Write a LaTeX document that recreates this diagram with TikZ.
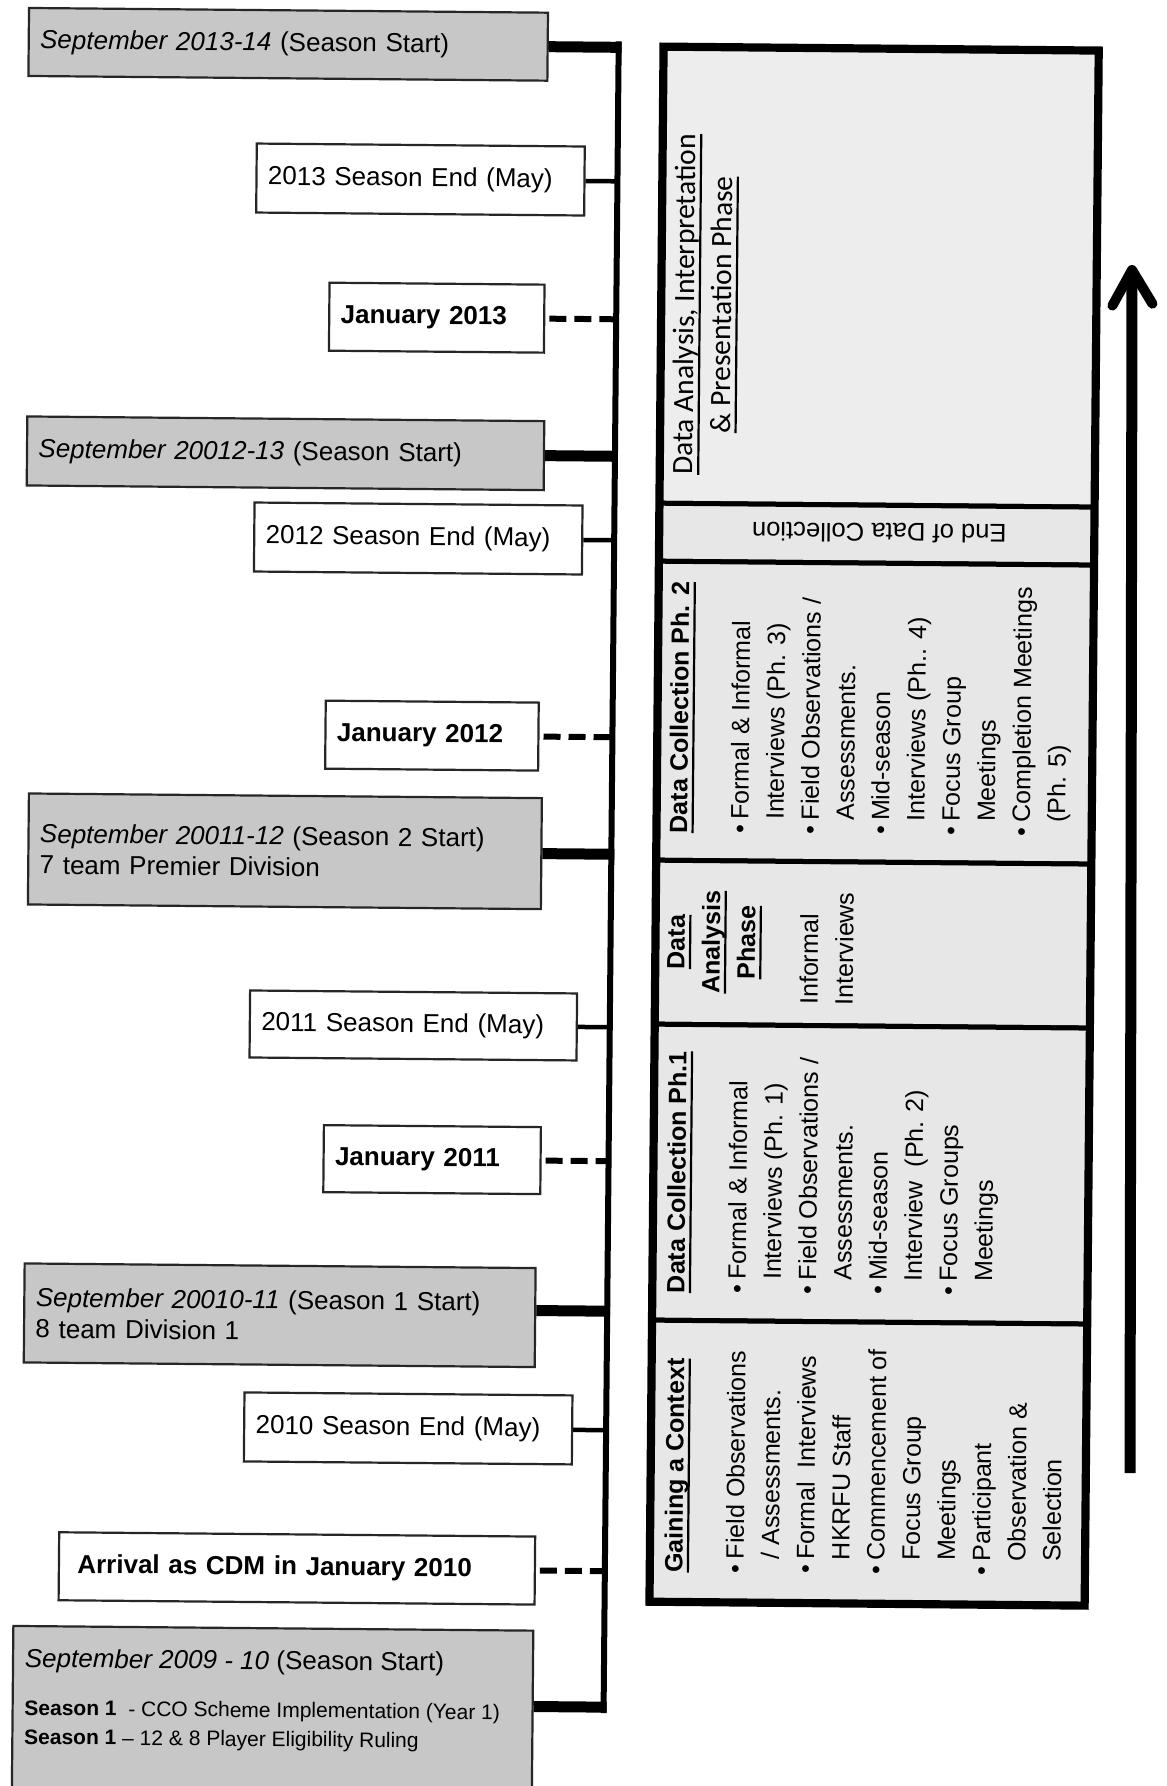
\documentclass[tikz,border=0pt]{standalone}
\usepackage{fontspec}
\setmainfont{Liberation Sans}
\newfontfamily\calfont{Carlito}
\definecolor{evtgray}{gray}{0.78}
\definecolor{panelgray}{gray}{0.905}
\definecolor{toppanel}{gray}{0.93}
% underline at a fixed depth below the baseline
\newcommand\ulbar[1]{\setbox0=\hbox{#1}\rlap{\rule[-3.3pt]{\wd0}{1.1pt}}\box0}
% bullet and hanging indent for the phase lists
\newcommand\bulmark{\makebox[7pt][l]{•}}
\newcommand\contind{\hspace*{7pt}}
\begin{document}
\begin{tikzpicture}[x=0.5pt,y=-0.5pt,
  evt/.style={draw=black!85, line width=1.1pt, inner xsep=5.75pt, inner ysep=0pt,
    align=left, font=\fontsize{13}{15.5}\selectfont},
  startbox/.style={evt, fill=evtgray},
  endbox/.style={evt, fill=white},
  thickcon/.style={line width=5.5pt},
  thincon/.style={line width=2.25pt},
  dashcon/.style={line width=3pt, dash pattern=on 8.5pt off 4pt},
  spineline/.style={line width=3pt},
  panel/.style={draw=black, line width=2.5pt, fill=panelgray, minimum width=216pt,
    inner sep=0pt, anchor=north west},
  ptext/.style={rotate=90, inner sep=0pt, align=left, font=\fontsize{12.5}{17.6}\selectfont},
]
\useasboundingbox (0,0) rectangle (1166,1786);

\begin{scope}[rotate around={-0.52:(583,893)}, transform shape]

% ---------- time line ----------
\coordinate (spTop) at (611,41);
\coordinate (spBot) at (611,1713);
\draw[spineline] (spTop) -- (spBot);

\node[startbox, text width=248pt, minimum height=34pt] (A) at (280.5,47)
  {\textit{September 2013-14} (Season Start)};
\node[endbox, text width=152.5pt, minimum height=34.5pt] (B) at (414,181)
  {2013 Season End (May)};
\node[endbox, text width=96pt, minimum height=34pt] (C) at (431.5,319)
  {\textbf{January 2013}};
\node[startbox, text width=247pt, minimum height=34.5pt] (D) at (281.5,456)
  {\textit{September 20012-13} (Season Start)};
\node[endbox, text width=152.5pt, minimum height=34.5pt] (E) at (415,540)
  {2012 Season End (May)};
\node[endbox, text width=95pt, minimum height=34pt] (F) at (430.5,737)
  {\textbf{January 2012}};
\node[startbox, text width=245pt, minimum height=55.5pt] (G) at (284.5,854)
  {\textit{September 20011-12} (Season 2 Start)\\7 team Premier Division};
\node[endbox, text width=152pt, minimum height=33.5pt] (H) at (414.5,1027)
  {2011 Season End (May)};
\node[endbox, text width=97pt, minimum height=33.5pt] (I) at (434.5,1161)
  {\textbf{January 2011}};
\node[startbox, text width=244pt, minimum height=49.5pt] (J) at (283.5,1318)
  {\textit{September 20010-11} (Season 1 Start)\\8 team Division 1};
\node[endbox, text width=152.5pt, minimum height=34.5pt] (K) at (413,1430)
  {2010 Season End (May)};
\node[endbox, text width=226.5pt, minimum height=34pt] (L) at (303,1571)
  {\hspace*{3.5pt}\textbf{Arrival as CDM in January 2010}};
\node[startbox, anchor=north, text width=248.5pt, minimum height=200pt] (M) at (280,1630) {};
\node[inner sep=0pt, anchor=north west, align=left, font=\fontsize{13}{14.5}\selectfont]
  (Mtxt) at (31.5,1653)
  {\textit{September 2009 - 10} (Season Start)\\[9.5pt]
   {\fontsize{10.5}{14.5}\selectfont\textbf{Season 1}~~- CCO Scheme Implementation (Year 1)}\\
   {\fontsize{10.5}{14.5}\selectfont\textbf{Season 1} – 12 \& 8 Player Eligibility Ruling}};

% ends of the connectors on the time line
\coordinate (jA) at (614,47);
\coordinate (jB) at (611,181);
\coordinate (jC) at (611,319);
\coordinate (jD) at (614,456);
\coordinate (jE) at (611,540);
\coordinate (jF) at (611,737);
\coordinate (jG) at (614,854);
\coordinate (jH) at (611,1027);
\coordinate (jI) at (611,1161);
\coordinate (jJ) at (614,1311);
\coordinate (jK) at (611,1430);
\coordinate (jL) at (611,1571);
\coordinate (jM) at (614,1707);

\draw[thickcon] (A.east) -- (jA);
\draw[thincon]  (B.east) -- (jB);
\draw[dashcon]  ([xshift=2pt]C.east) -- (jC);
\draw[thickcon] (D.east) -- (jD);
\draw[thincon]  (E.east) -- (jE);
\draw[dashcon]  ([xshift=2pt]F.east) -- (jF);
\draw[thickcon] (G.east) -- (jG);
\draw[thincon]  (H.east) -- (jH);
\draw[dashcon]  ([xshift=2pt]I.east) -- (jI);
\draw[thickcon] ([yshift=3.5pt]J.east) -- (jJ);
\draw[thincon]  (K.east) -- (jK);
\draw[dashcon]  ([xshift=2pt]L.east) -- (jL);
\draw[thickcon] ([yshift=-38.5pt]M.north east) -- (jM);

% ---------- research phases ----------
\node[panel, fill=toppanel, minimum height=227.5pt] (P1) at (655,45) {};
\node[panel, minimum height=29pt]    (P2) at (655,500) {};
\node[panel, minimum height=149.5pt] (P3) at (655,558) {};
\node[panel, minimum height=82pt]    (P4) at (655,857) {};
\node[panel, minimum height=148pt]   (P5) at (655,1021) {};
\node[panel, minimum height=140pt]   (P6) at (655,1317) {};
\draw[line width=3.2pt] (P1.north west) rectangle (P6.south east);

\node[ptext, align=center, anchor=north, font=\calfont\fontsize{14.75}{18.5}\selectfont]
  (t1) at (668,303.5)
  {\ulbar{Data Analysis, Interpretation}\\\ulbar{\& Presentation Phase}};

\node[rotate=180, inner sep=0pt, font=\fontsize{12.8}{15}\selectfont] (t2) at (876,530)
  {End of Data Collection};

\node[ptext, anchor=north west] (t3) at (668,832.5)
  {\ulbar{\textbf{Data Collection Ph. 2}}\\[13pt]
   \bulmark Formal \& Informal\\
   \contind Interviews (Ph. 3)\\
   \bulmark Field Observations /\\
   \contind Assessments.\\
   \bulmark Mid-season\\
   \contind Interviews (Ph.. 4)\\
   \bulmark Focus Group\\
   \contind Meetings\\
   \bulmark Completion Meetings\\
   \contind (Ph. 5)};

\node[ptext, align=center, anchor=north] (t4a) at (667.5,941)
  {\ulbar{\textbf{Data}}\\\ulbar{\textbf{Analysis}}\\\ulbar{\textbf{Phase}}};
\node[ptext, anchor=north west] (t4b) at (800,1003) {Informal\\Interviews};

\node[ptext, anchor=north west] (t5) at (669.5,1292.5)
  {\ulbar{\textbf{Data Collection Ph.1}}\\[13pt]
   \bulmark Formal \& Informal\\
   \contind Interviews (Ph. 1)\\
   \bulmark Field Observations /\\
   \contind Assessments.\\
   \bulmark Mid-season\\
   \contind Interview~~(Ph. 2)\\
   \bulmark Focus Groups\\
   \contind Meetings};

\node[ptext, anchor=north west] (t6) at (670,1572)
  {\ulbar{\textbf{Gaining a Context}}\\[13pt]
   \bulmark Field Observations\\
   \contind / Assessments.\\
   \bulmark Formal~~Interviews\\
   \contind HKRFU Staff\\
   \bulmark Commencement of\\
   \contind Focus Group\\
   \contind Meetings\\
   \bulmark Participant\\
   \contind Observation \&\\
   \contind Selection};
\end{scope}

% ---------- direction of time ----------
\coordinate (arrBot) at (1130,1473);
\coordinate (arrTip) at (1132,270);
\coordinate (arrL) at (1112.4,305.6);
\coordinate (arrR) at (1152.4,303.7);
\draw[line width=5.5pt] (arrBot) -- (arrTip);
\draw[line width=5pt, line cap=round, line join=round] (arrL) -- (arrTip) -- (arrR);
\end{tikzpicture}
\end{document}
